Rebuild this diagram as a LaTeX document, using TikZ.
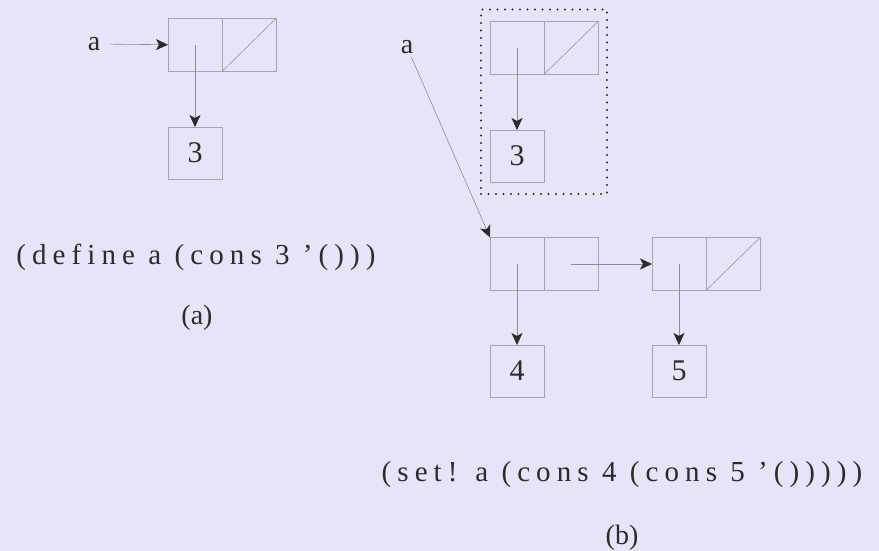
\documentclass[tikz,border=0pt]{standalone}
\usepackage{fontspec}
\setmainfont{Liberation Serif}
\newfontfamily\codefont[LetterSpace=21]{Liberation Serif}
\usetikzlibrary{arrows.meta,positioning,fit}
\definecolor{paper}{HTML}{E6E4F6}
\definecolor{wire}{HTML}{8C8C96}
\definecolor{edge}{HTML}{A4A4B0}
\definecolor{ink}{HTML}{2A2A30}

\begin{document}
\begin{tikzpicture}[x=1pt,y=-1pt,node distance=0pt,
 cell/.style={draw=edge,line width=0.6pt,minimum width=54pt,minimum height=53pt,inner sep=0pt,outer sep=0pt},
 val/.style={cell,minimum height=52pt,font=\fontsize{30}{30}\selectfont,text=ink},
 ptr/.style={-{Stealth[length=12pt,width=11pt,inset=3pt,color=ink]},draw=wire,line width=0.6pt},
 nil/.style={draw=wire,line width=0.5pt},
 lbl/.style={font=\fontsize{28}{28}\selectfont,text=ink},
 code/.style={font=\codefont\fontsize{29}{32}\selectfont,text=ink}]
\fill[paper] (0,0) rectangle (879,551);
\useasboundingbox (0,0) rectangle (879,551);
\node[cell] (carA) at (195,45) {};
\node[cell,right=of carA] (cdrA) {};
\node[val] (valA) at (195,153) {3};
\node[lbl] (nameA) at (94,44) {a};
\node[code] (codeA) at (196,257) {(define a (cons 3 ’()))};
\node[lbl] (capA) at (197,318) {(a)};
\node[cell] (carB) at (517,48) {};
\node[cell,right=of carB] (cdrB) {};
\node[val] (valB) at (517,156) {3};
\node[draw=ink,line width=2.4pt,dash pattern=on 0pt off 7.5pt,line cap=round,fit=(carB)(cdrB)(valB),inner xsep=9pt,inner ysep=12pt] (old) {};
\node[lbl] (nameB) at (407,47) {a};
\node[cell] (carC) at (517,264) {};
\node[cell,right=of carC] (cdrC) {};
\node[cell] (carD) at (679,264) {};
\node[cell,right=of carD] (cdrD) {};
\node[val] (valC) at (517,371) {4};
\node[val] (valD) at (679,371) {5};
\node[code] (codeB) at (622,475) {(set! a (cons 4 (cons 5 ’()))))};
\node[lbl] (capB) at (622,538) {(b)};
\draw[ptr,shorten <=6pt] (nameA) -- (carA);
\draw[ptr] (carA.center) -- (valA);
\draw[nil] (cdrA.south west) -- (cdrA.north east);
\draw[ptr] (carB.center) -- (valB);
\draw[nil] (cdrB.south west) -- (cdrB.north east);
\draw[ptr] (nameB) -- (carC.north west);
\draw[ptr] (carC.center) -- (valC);
\draw[ptr] (cdrC.center) -- (carD);
\draw[ptr] (carD.center) -- (valD);
\draw[nil] (cdrD.south west) -- (cdrD.north east);
\end{tikzpicture}
\end{document}
